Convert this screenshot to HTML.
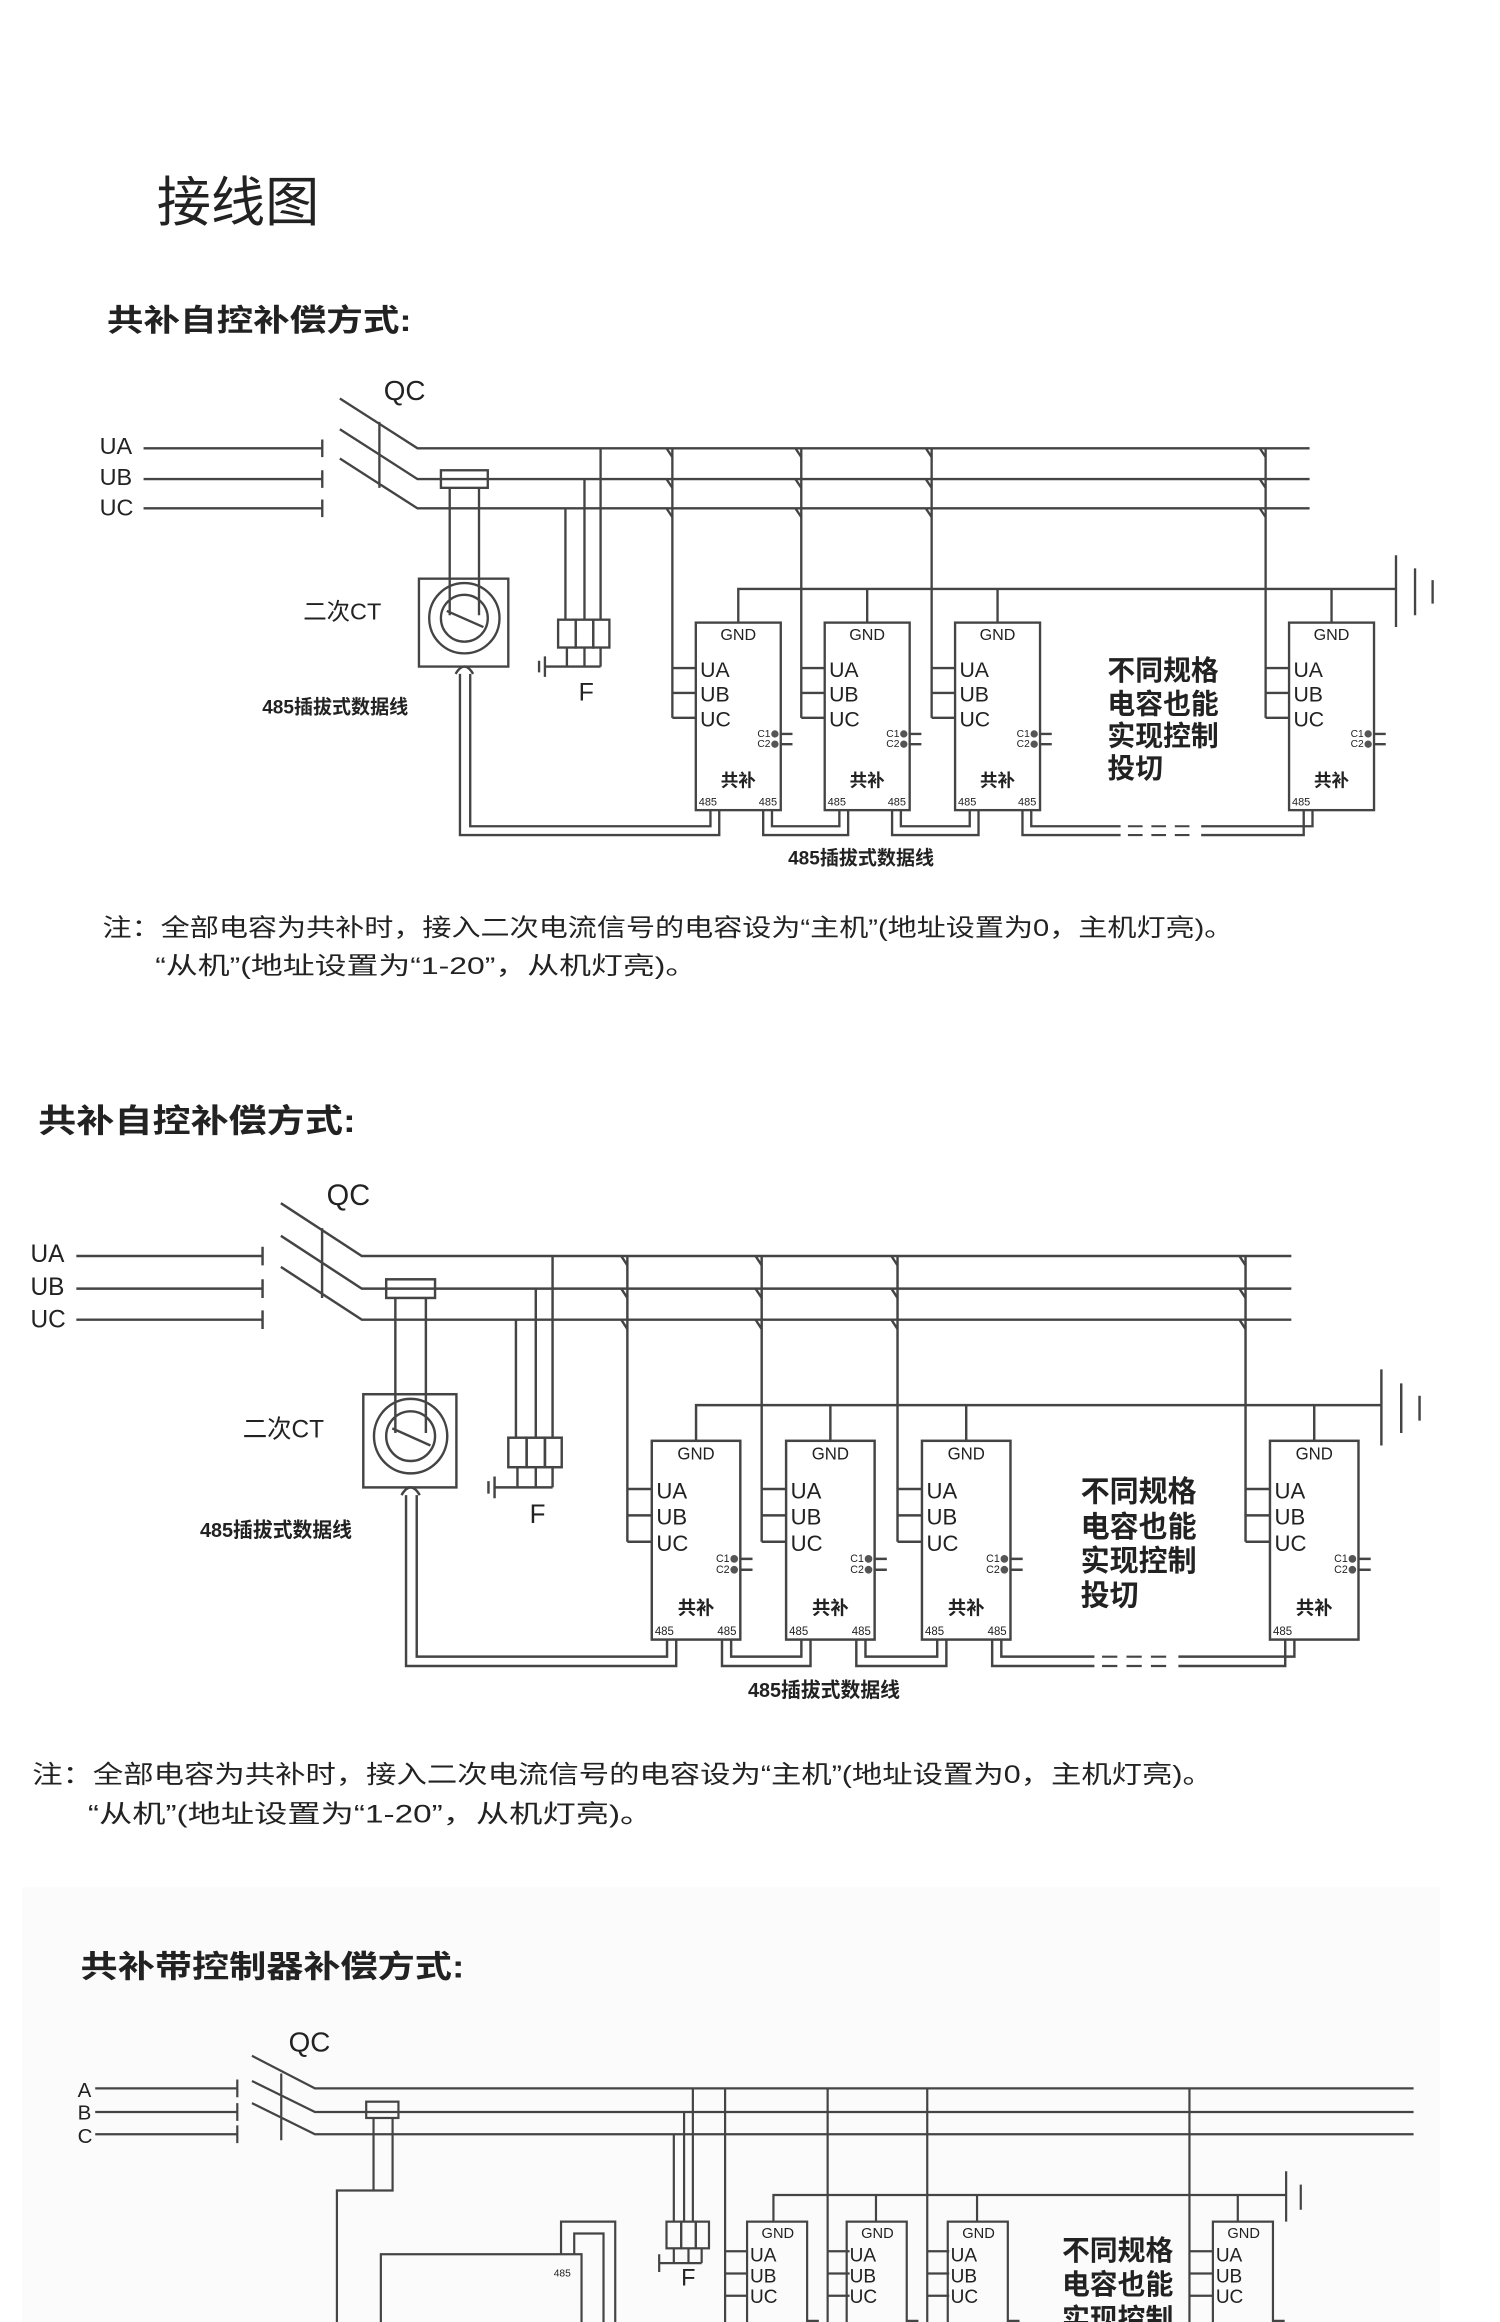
<!DOCTYPE html>
<html><head><meta charset="utf-8">
<style>
html,body{margin:0;padding:0;background:#fff;}
svg{display:block;}
text{font-family:"Liberation Sans","Noto Sans CJK SC",sans-serif;fill:#222;}
.b{font-weight:bold;}
</style></head>
<body>
<svg width="1500" height="2322" viewBox="0 0 1024 1585" preserveAspectRatio="none" xmlns="http://www.w3.org/2000/svg">
<rect x="0" y="0" width="1024" height="1585" fill="#fff"/>

<text x="107" y="151" font-size="37">接线图</text>

<g id="d1">
<text x="73" y="226" font-size="21" class="b" textLength="208" lengthAdjust="spacingAndGlyphs">共补自控补偿方式:</text>
<text x="262" y="273" font-size="19">QC</text>
<text x="68" y="310" font-size="16">UA</text>
<text x="68" y="331" font-size="16">UB</text>
<text x="68" y="352" font-size="16">UC</text>
<g stroke="#444" stroke-width="1.6" fill="none">
<path d="M98 306H220M98 327H220M98 347H220"/>
<path d="M220 300V312M220 321V333M220 341V353"/>
<path d="M232 272L285 306H894M232 293L285 327H894M232 313L285 347H894"/>
<path d="M259 288V333"/>
<rect x="301" y="321" width="32" height="12"/>
<path d="M307 333V420M327 333V420"/>
<rect x="286" y="395" width="61" height="60"/>
<circle cx="317" cy="422" r="24"/>
<circle cx="317" cy="422" r="16"/>
<path d="M305 417L330 428"/>
<path d="M311 460Q317 450 323 460"/>
<path d="M314 460V570H491V553"/>
<path d="M321 460V564H485V553"/>
<path d="M386 347V423M399 327V423M410 306V423"/>
<rect x="381" y="423" width="12" height="19"/><rect x="393" y="423" width="12" height="19"/><rect x="405" y="423" width="11" height="19"/>
<path d="M387 442V455M399 442V455M410 442V455M372 455H410M372 448V462M368 451V459"/>
<path d="M459 306V490M547 306V490M636 306V490M864 306V490"/>
<path d="M455 306L459 312M455 327L459 333M455 347L459 353M543 306L547 312M543 327L547 333M543 347L547 353M632 306L636 312M632 327L636 333M632 347L636 353M860 306L864 312M860 327L864 333M860 347L864 353"/>
<path d="M459 456H475M459 473H475M459 490H475M547 456H563M547 473H563M547 490H563M636 456H652M636 473H652M636 490H652M864 456H880M864 473H880M864 490H880"/>
<path d="M504 425V402H953M592 402V425M681 402V425M909 402V425"/>
<path d="M953 379V428M966 388V420M978 396V412"/>
<rect x="475" y="425" width="58" height="128"/>
<rect x="563" y="425" width="58" height="128"/>
<rect x="652" y="425" width="58" height="128"/>
<rect x="880" y="425" width="58" height="128"/>
<path d="M533 501H541M533 508H541M621 501H629M621 508H629M710 501H718M710 508H718M938 501H946M938 508H946"/>
<path d="M521 553V570H579V553M527 553V564H573V553"/>
<path d="M609 553V570H668V553M615 553V564H662V553"/>
<path d="M698 553V570H765M820 570H890V553M704 553V564H765M820 564H896V553"/>
<path d="M770 570H780M786 570H796M802 570H812M770 564H780M786 564H796M802 564H812" stroke-width="1.4"/>
</g>
<g fill="#555"><circle cx="529" cy="501" r="2.5"/><circle cx="529" cy="508" r="2.5"/><circle cx="617" cy="501" r="2.5"/><circle cx="617" cy="508" r="2.5"/><circle cx="706" cy="501" r="2.5"/><circle cx="706" cy="508" r="2.5"/><circle cx="934" cy="501" r="2.5"/><circle cx="934" cy="508" r="2.5"/></g>
<g font-size="11" text-anchor="middle"><text x="504" y="437">GND</text><text x="592" y="437">GND</text><text x="681" y="437">GND</text><text x="909" y="437">GND</text></g>
<g font-size="14.5">
<text x="478" y="462">UA</text><text x="478" y="479">UB</text><text x="478" y="496">UC</text>
<text x="566" y="462">UA</text><text x="566" y="479">UB</text><text x="566" y="496">UC</text>
<text x="655" y="462">UA</text><text x="655" y="479">UB</text><text x="655" y="496">UC</text>
<text x="883" y="462">UA</text><text x="883" y="479">UB</text><text x="883" y="496">UC</text>
</g>
<g font-size="7" text-anchor="end">
<text x="526" y="503">C1</text><text x="526" y="510">C2</text><text x="614" y="503">C1</text><text x="614" y="510">C2</text><text x="703" y="503">C1</text><text x="703" y="510">C2</text><text x="931" y="503">C1</text><text x="931" y="510">C2</text>
</g>
<g font-size="12" class="b" text-anchor="middle"><text x="504" y="537">共补</text><text x="592" y="537">共补</text><text x="681" y="537">共补</text><text x="909" y="537">共补</text></g>
<g font-size="7.5"><text x="477" y="550">485</text><text x="518" y="550">485</text><text x="565" y="550">485</text><text x="606" y="550">485</text><text x="654" y="550">485</text><text x="695" y="550">485</text><text x="882" y="550">485</text></g>
<text x="207" y="423" font-size="16">二次CT</text>
<text x="395" y="478" font-size="17">F</text>
<text x="179" y="487" font-size="13" class="b">485插拔式数据线</text>
<text x="538" y="590" font-size="13" class="b">485插拔式数据线</text>
<g font-size="19" class="b"><text x="756" y="464">不同规格</text><text x="756" y="487">电容也能</text><text x="756" y="509">实现控制</text><text x="756" y="531">投切</text></g>
</g>
<text x="70" y="639" font-size="16.5" textLength="772" lengthAdjust="spacingAndGlyphs">注：全部电容为共补时，接入二次电流信号的电容设为“主机”(地址设置为0，主机灯亮)。</text>
<text x="106" y="665" font-size="16.5" textLength="370" lengthAdjust="spacingAndGlyphs">“从机”(地址设置为“1-20”，从机灯亮)。</text>

<use href="#d1" transform="matrix(1.042,0,0,1.06,-50,533)"/>
<text x="22" y="1217" font-size="17" textLength="806" lengthAdjust="spacingAndGlyphs">注：全部电容为共补时，接入二次电流信号的电容设为“主机”(地址设置为0，主机灯亮)。</text>
<text x="60" y="1244" font-size="17" textLength="386" lengthAdjust="spacingAndGlyphs">“从机”(地址设置为“1-20”，从机灯亮)。</text>

<g transform="matrix(1,0,0,1.011,0,0)">
<rect x="15" y="1274" width="968" height="330" fill="#fbfbfb"/>
<text x="55" y="1335" font-size="21" class="b" textLength="262" lengthAdjust="spacingAndGlyphs">共补带控制器补偿方式:</text>
<text x="197" y="1385" font-size="19">QC</text>
<text x="53" y="1416" font-size="14">A</text>
<text x="53" y="1431" font-size="14">B</text>
<text x="53" y="1447" font-size="14">C</text>
<g stroke="#444" stroke-width="1.5" fill="none">
<path d="M65 1410H162M65 1426H162M65 1441H162M162 1404V1416M162 1420V1432M162 1435V1447"/>
<path d="M172 1388L215 1410H965M172 1405L215 1426H965M172 1420L215 1441H965M192 1400V1445"/>
<rect x="250" y="1419" width="22" height="11"/>
<path d="M255 1430V1479M268 1430V1479H230V1600"/>
<rect x="260" y="1522" width="137" height="80"/>
<path d="M383 1522V1500H420V1600M392 1522V1508H412V1600"/>
<path d="M460 1441V1500M467 1426V1500M473 1410V1500"/>
<rect x="455" y="1500" width="10" height="18"/><rect x="465" y="1500" width="10" height="18"/><rect x="475" y="1500" width="9" height="18"/>
<path d="M460 1518V1528M470 1518V1528M479 1518V1528M450 1528H479M450 1522V1534"/>
<path d="M495 1410V1600M565 1410V1600M633 1410V1600M812 1410V1600"/>
<path d="M495 1520H510M495 1535H510M495 1550H510M565 1520H580M565 1535H580M565 1550H580M633 1520H648M633 1535H648M633 1550H648M812 1520H828M812 1535H828M812 1550H828"/>
<path d="M528 1500V1482H878M598 1482V1500M667 1482V1500M845 1482V1500M878 1466V1500M888 1475V1492"/>
<rect x="510" y="1500" width="41" height="105"/>
<rect x="578" y="1500" width="41" height="105"/>
<rect x="647" y="1500" width="41" height="105"/>
<rect x="828" y="1500" width="41" height="105"/>
<path d="M551 1567H559M619 1567H627M688 1567H696M869 1567H877"/>
</g>
<text x="378" y="1537" font-size="7">485</text>
<text x="465" y="1543" font-size="16">F</text>
<g font-size="10" text-anchor="middle"><text x="531" y="1511">GND</text><text x="599" y="1511">GND</text><text x="668" y="1511">GND</text><text x="849" y="1511">GND</text></g>
<g font-size="13"><text x="512" y="1527">UA</text><text x="512" y="1541">UB</text><text x="512" y="1555">UC</text>
<text x="580" y="1527">UA</text><text x="580" y="1541">UB</text><text x="580" y="1555">UC</text>
<text x="649" y="1527">UA</text><text x="649" y="1541">UB</text><text x="649" y="1555">UC</text>
<text x="830" y="1527">UA</text><text x="830" y="1541">UB</text><text x="830" y="1555">UC</text></g>
<g font-size="19" class="b"><text x="725" y="1526">不同规格</text><text x="725" y="1549">电容也能</text><text x="725" y="1572">实现控制</text></g>
</g>
</svg>
</body></html>
